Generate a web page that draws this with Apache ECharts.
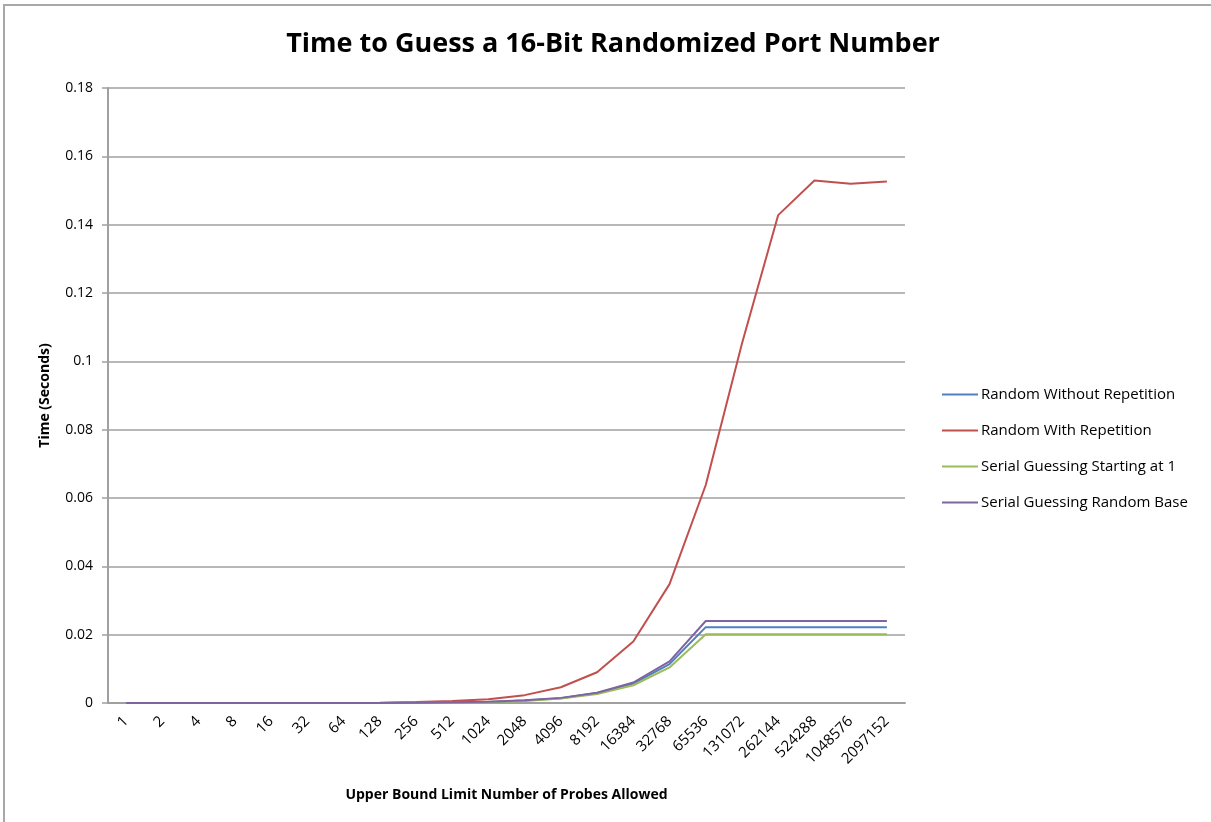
<!DOCTYPE html>
<html>
<head>
<meta charset="utf-8">
<script src="https://cdn.jsdelivr.net/npm/echarts@6/dist/echarts.min.js"></script>
<style>html,body{margin:0;padding:0;background:#fff}#c{width:1211px;height:822px}</style>
</head>
<body>
<div id="c"></div>
<script>
const categories = ['1','2','4','8','16','32','64','128','256','512','1024','2048','4096','8192','16384','32768','65536','131072','262144','524288','1048576','2097152'];
const randomWithoutRepetition = [0,0,0,0,0,0,0,0,0.0001,0.0002,0.0003,0.0007,0.0014,0.0029,0.0057,0.0114,0.0222,0.0222,0.0222,0.0222,0.0222,0.0222];
const randomWithRepetition = [0,0,0,0,0,0,0,0.0001,0.0003,0.0006,0.0011,0.0023,0.0046,0.009,0.018,0.0348,0.0638,0.1052,0.1428,0.1529,0.152,0.1526];
const serialStartingAt1 = [0,0,0,0,0,0,0,0,0.0001,0.0001,0.0003,0.0006,0.0013,0.0026,0.0052,0.0104,0.0201,0.0201,0.0201,0.0201,0.0201,0.0201];
const serialRandomBase = [0,0,0,0,0,0,0,0,0.0001,0.0002,0.0004,0.0008,0.0015,0.003,0.006,0.0122,0.024,0.024,0.024,0.024,0.024,0.024];
const yTicks = [0,0.02,0.04,0.06,0.08,0.1,0.12,0.14,0.16,0.18];

const FONT = '"Open Sans", "Liberation Sans", sans-serif';
const chart = echarts.init(document.getElementById('c'));
function mk(name, data, color) {
  return {name, type:'line', data, symbol:'none', smooth:false,
    lineStyle:{color, width:2}, itemStyle:{color}, animation:false};
}
chart.setOption({
  animation:false,
  textStyle:{fontFamily:FONT},
  title:{text:'Time to Guess a 16-Bit Randomized Port Number', top:26,
    left:608, textAlign:'center',
    textStyle:{fontSize:27, fontWeight:'bold', color:'#000', fontFamily:FONT}},
  legend:{orient:'vertical', left:937, top:382, itemWidth:36, itemHeight:2, itemGap:21,
    icon:'rect',
    textStyle:{fontSize:15, color:'#000', fontFamily:FONT, padding:[0,0,0,-2]},
    data:['Random Without Repetition','Random With Repetition','Serial Guessing Starting at 1','Serial Guessing Random Base']},
  grid:{left:108, right:306, top:88, bottom:119, containLabel:false},
  xAxis:{type:'category', data:categories, boundaryGap:true,
    name:'Upper Bound Limit Number of Probes Allowed', nameLocation:'middle', nameGap:85,
    nameTextStyle:{fontSize:14, fontWeight:'bold', color:'#000', fontFamily:FONT},
    axisLine:{lineStyle:{color:'#a0a0a0', width:2}},
    axisTick:{show:false},
    axisLabel:{rotate:45, fontSize:15, color:'#000', margin:16, interval:0, fontFamily:FONT}},
  yAxis:{type:'value', min:0, max:0.18, interval:0.02,
    name:'Time (Seconds)', nameLocation:'middle', nameGap:56, nameRotate:90,
    nameTextStyle:{fontSize:14, fontWeight:'bold', color:'#000', fontFamily:FONT},
    axisLine:{show:true, lineStyle:{color:'#a0a0a0', width:2}},
    axisTick:{show:true, length:6, inside:false, lineStyle:{color:'#a0a0a0', width:1.5}},
    axisLabel:{fontSize:14, color:'#000', margin:15, fontFamily:FONT,
      formatter:v=>{const t=yTicks.find(x=>Math.abs(x-v)<1e-9); return String(+((t!==undefined?t:v).toFixed(2)));}},
    splitLine:{lineStyle:{color:'#a0a0a0', width:1.5}}},
  graphic:[{type:'rect', shape:{x:4, y:5, width:1300, height:1000}, silent:true,
    style:{fill:'none', stroke:'#a8a8a8', lineWidth:2}, z:-1}],
  series:[
    mk('Random Without Repetition', randomWithoutRepetition, '#4F81BD'),
    mk('Random With Repetition', randomWithRepetition, '#C0504D'),
    mk('Serial Guessing Starting at 1', serialStartingAt1, '#9BBB59'),
    mk('Serial Guessing Random Base', serialRandomBase, '#8064A2')
  ]
});
</script>
</body>
</html>
